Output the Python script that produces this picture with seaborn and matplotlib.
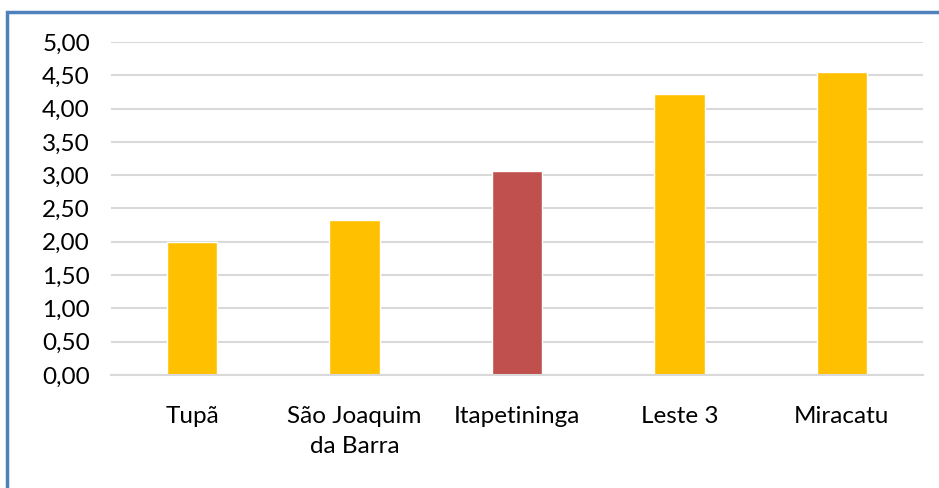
import matplotlib
matplotlib.use("Agg")
import matplotlib.pyplot as plt
import seaborn as sns
import pandas as pd
from matplotlib.patches import Rectangle
from matplotlib.ticker import FuncFormatter, MultipleLocator

categories = ["Tupã", "São Joaquim\nda Barra", "Itapetininga", "Leste 3", "Miracatu"]
values = [2.00, 2.33, 3.06, 4.22, 4.55]
colors = ["#FFC000", "#FFC000", "#C0504D", "#FFC000", "#FFC000"]

sns.set_style("white")
plt.rcParams['font.family'] = ['Lato', 'DejaVu Sans']

df = pd.DataFrame({"cat": categories, "val": values})

fig = plt.figure(figsize=(9.39, 4.88), dpi=100)
ax = fig.add_axes([0.118, 0.2316, 0.865, 0.6824])

sns.barplot(data=df, x="cat", y="val", hue="cat", palette=dict(zip(categories, colors)),
            width=0.31, legend=False, ax=ax, saturation=1)

ax.set_ylim(0, 5)
ax.set_xlim(-0.5, 4.5)
ax.yaxis.set_major_locator(MultipleLocator(0.5))
ax.yaxis.set_major_formatter(FuncFormatter(lambda v, p: f"{v:.2f}".replace(".", ",")))
ax.grid(axis="y", color="#D9D9D9", linewidth=1.5)
ax.set_axisbelow(True)
for s in ["left", "right", "top"]:
    ax.spines[s].set_visible(False)
ax.spines["bottom"].set_color("#D9D9D9")
ax.spines["bottom"].set_linewidth(1.5)
ax.tick_params(axis="both", length=0, labelsize=17.5, colors="black")
ax.tick_params(axis="x", pad=22)
ax.tick_params(axis="y", pad=15)
ax.set_xlabel("")
ax.set_ylabel("")
for lbl in ax.get_xticklabels():
    lbl.set_linespacing(1.55)

fig.patches.append(Rectangle((7/939, -0.1), 1.2, 1.1 - 12/488,
                             transform=fig.transFigure, fill=False,
                             edgecolor="#4F81BD", linewidth=2.5, figure=fig))

fig.savefig("out.png", dpi=100)
